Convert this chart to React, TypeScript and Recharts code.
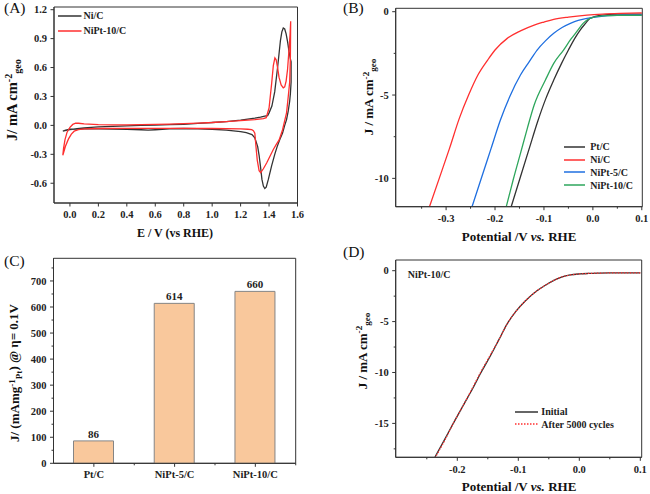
import React from 'react';
import { LineChart, Line, BarChart, Bar, XAxis, YAxis, Legend, LabelList, ReferenceArea } from 'recharts';

// (A) cyclic voltammograms, E (V vs RHE) and J (mA cm-2), one closed loop each
const cvNiE = [-0.05, -0.02, 0.0, 0.05, 0.1, 0.2, 0.3, 0.4, 0.5, 0.6, 0.7, 0.8, 0.9, 1.0, 1.1, 1.2, 1.25, 1.3, 1.34, 1.37, 1.39, 1.40, 1.42, 1.44, 1.46, 1.48, 1.49, 1.50, 1.51, 1.52, 1.53, 1.54, 1.55, 1.555, 1.555, 1.55, 1.545, 1.535, 1.523, 1.51, 1.495, 1.475, 1.457, 1.44, 1.418, 1.395, 1.38, 1.37, 1.36, 1.35, 1.34, 1.33, 1.32, 1.30, 1.28, 1.24, 1.2, 1.1, 1.0, 0.9, 0.8, 0.7, 0.6, 0.55, 0.5, 0.4, 0.3, 0.2, 0.1, 0.0, -0.03, -0.05];
const cvNiJ = [-0.06, -0.05, -0.045, -0.035, -0.025, -0.015, -0.01, -0.005, 0.0, 0.003, 0.007, 0.012, 0.02, 0.03, 0.04, 0.055, 0.065, 0.075, 0.085, 0.095, 0.10, 0.13, 0.2, 0.35, 0.6, 0.88, 0.97, 1.01, 1.0, 0.95, 0.87, 0.77, 0.69, 0.66, 0.45, 0.33, 0.25, 0.15, 0.06, 0.0, -0.08, -0.15, -0.22, -0.3, -0.42, -0.56, -0.64, -0.655, -0.63, -0.56, -0.43, -0.31, -0.22, -0.13, -0.095, -0.075, -0.065, -0.05, -0.04, -0.035, -0.032, -0.035, -0.045, -0.05, -0.045, -0.04, -0.038, -0.036, -0.036, -0.04, -0.05, -0.06];
const cvNiPtE = [-0.05, -0.045, -0.035, -0.02, 0.0, 0.02, 0.04, 0.06, 0.1, 0.2, 0.3, 0.4, 0.5, 0.6, 0.7, 0.8, 0.9, 1.0, 1.1, 1.2, 1.3, 1.36, 1.38, 1.40, 1.418, 1.43, 1.441, 1.45, 1.46, 1.47, 1.485, 1.50, 1.51, 1.52, 1.53, 1.54, 1.548, 1.552, 1.55, 1.545, 1.535, 1.523, 1.51, 1.495, 1.471, 1.45, 1.43, 1.41, 1.383, 1.36, 1.341, 1.33, 1.317, 1.308, 1.30, 1.29, 1.278, 1.25, 1.2, 1.0, 0.8, 0.6, 0.4, 0.2, 0.1, 0.06, 0.03, 0.01, -0.01, -0.03, -0.05];
const cvNiPtJ = [-0.31, -0.24, -0.15, -0.07, -0.02, 0.01, 0.022, 0.022, 0.015, 0.007, 0.005, 0.006, 0.008, 0.01, 0.014, 0.018, 0.024, 0.03, 0.04, 0.05, 0.06, 0.07, 0.08, 0.18, 0.43, 0.62, 0.70, 0.68, 0.6, 0.5, 0.42, 0.39, 0.40, 0.46, 0.58, 0.78, 0.95, 1.08, 0.7, 0.45, 0.3, 0.13, 0.05, -0.045, -0.15, -0.2, -0.25, -0.31, -0.39, -0.45, -0.49, -0.47, -0.36, -0.22, -0.08, -0.055, -0.045, -0.04, -0.036, -0.032, -0.03, -0.03, -0.03, -0.032, -0.036, -0.045, -0.06, -0.09, -0.14, -0.21, -0.31];
const cvNames = ['Ni/C', 'NiPt-10/C'];

// (B) HER polarisation curves
const lsvPtE = [-0.167, -0.148, -0.13, -0.113, -0.096, -0.08, -0.064, -0.05, -0.037, -0.026, -0.015, -0.006, 0.02, 0.05, 0.1];
const lsvPtJ = [-11.7, -9.9, -8.2, -6.6, -5.2, -4.1, -3.1, -2.3, -1.6, -1.1, -0.7, -0.4, -0.2, -0.15, -0.14];
const lsvNiE = [-0.334, -0.314, -0.293, -0.273, -0.254, -0.235, -0.215, -0.2, -0.175, -0.148, -0.12, -0.1, -0.08, -0.05, -0.012, 0.02, 0.056, 0.1];
const lsvNiJ = [-11.7, -10, -8.2, -6.4, -5, -3.8, -2.9, -2.3, -1.6, -1.15, -0.8, -0.62, -0.46, -0.32, -0.2, -0.14, -0.1, -0.07];
const lsvNiPt5E = [-0.247, -0.227, -0.208, -0.189, -0.17, -0.148, -0.13, -0.114, -0.097, -0.08, -0.063, -0.046, -0.03, -0.012, 0.022, 0.06, 0.1];
const lsvNiPt5J = [-11.7, -9.9, -8.2, -6.5, -5.1, -3.8, -3.0, -2.3, -1.75, -1.3, -0.95, -0.7, -0.52, -0.4, -0.26, -0.21, -0.2];
const lsvNiPt10E = [-0.177, -0.163, -0.148, -0.134, -0.12, -0.097, -0.08, -0.06, -0.045, -0.033, -0.02, -0.006, 0.02, 0.05, 0.1];
const lsvNiPt10J = [-11.7, -10.1, -8.5, -7.0, -5.6, -4.1, -3.1, -2.3, -1.65, -1.2, -0.7, -0.4, -0.25, -0.22, -0.22];
const lsvNames = ['Pt/C', 'Ni/C', 'NiPt-5/C', 'NiPt-10/C'];

// (C) mass activity at 0.1 V overpotential
const massCats = ['Pt/C', 'NiPt-5/C', 'NiPt-10/C'];
const massVals = [86, 614, 660];

// (D) stability of NiPt-10/C
const adtE = [-0.2366, -0.22, -0.2066, -0.19, -0.175, -0.162, -0.147, -0.132, -0.118, -0.104, -0.089, -0.07, -0.055, -0.04, -0.028, -0.015, 0.0, 0.015, 0.03, 0.05, 0.075, 0.1];
const adtInitJ = [-18.3, -16.5, -15, -13.2, -11.6, -10.1, -8.5, -6.8, -5.2, -4.0, -3.0, -2.0, -1.4, -0.9, -0.6, -0.42, -0.32, -0.27, -0.24, -0.22, -0.21, -0.21];
const adtAfterJ = [-18.4, -16.6, -15, -13.2, -11.5, -10.0, -8.4, -6.8, -5.2, -4.0, -3.0, -2.0, -1.4, -0.9, -0.6, -0.42, -0.32, -0.27, -0.24, -0.22, -0.21, -0.21];
const adtNames = ['Initial', 'After 5000 cycles'];

// tick values
const aXTicks = [0, 0.2, 0.4, 0.6, 0.8, 1.0, 1.2, 1.4, 1.6];
const aYTicks = [-0.6, -0.3, 0, 0.3, 0.6, 0.9, 1.2];
const bXMajor = [-0.3, -0.2, -0.1, 0, 0.1];
const bXTicks = [-0.35, -0.3, -0.25, -0.2, -0.15, -0.1, -0.05, 0, 0.05, 0.1];
const bYMajor = [-10, -5, 0];
const bYTicks = [-10, -7.5, -5, -2.5, 0];
const cYMajor = [0, 100, 200, 300, 400, 500, 600, 700];
const cYTicks = [0, 50, 100, 150, 200, 250, 300, 350, 400, 450, 500, 550, 600, 650, 700, 750];
const dXMajor = [-0.2, -0.1, 0, 0.1];
const dXTicks = [-0.25, -0.2, -0.15, -0.1, -0.05, 0, 0.05, 0.1];
const dYMajor = [-15, -10, -5, 0];
const dYTicks = [-17.5, -15, -12.5, -10, -7.5, -5, -2.5, 0];

const FONT = '"Liberation Serif", "Times New Roman", serif';
const AX = '#333';
const BLACK = '#333333';
const RED = '#ff2f2f';
const BLUE = '#1f6fe0';
const GREEN = '#2ea65c';

const pts = (e: number[], j: number[]) => e.map((x, i) => ({ e: x, j: j[i] }));
const f1 = (v: number) => v.toFixed(1);
const fInt = (v: number) => String(Math.round(v));

// custom tick: draws its own outward tick mark, minor ticks get no label
function axisTick(side: 'x' | 'y', majors: number[], fmt: (v: number) => string) {
  return (p: any) => {
    const v = Number(p.payload.value);
    const major = majors.some((m) => Math.abs(m - v) < 1e-6);
    const len = major ? 3.5 : 2;
    if (side === 'x') {
      return (
        <g>
          <line x1={p.x} x2={p.x} y1={p.y} y2={p.y + len} stroke={AX} />
          {major && (
            <text x={p.x} y={p.y + 8} dy="0.71em" textAnchor="middle" fontSize={10.5} fontWeight="bold" fontFamily={FONT} fill="#222">
              {fmt(v)}
            </text>
          )}
        </g>
      );
    }
    return (
      <g>
        <line x1={p.x - len} x2={p.x} y1={p.y} y2={p.y} stroke={AX} />
        {major && (
          <text x={p.x - 7} y={p.y} dy="0.355em" textAnchor="end" fontSize={10.5} fontWeight="bold" fontFamily={FONT} fill="#222">
            {fmt(v)}
          </text>
        )}
      </g>
    );
  };
}

const catTick = (p: any) => (
  <g>
    <line x1={p.x} x2={p.x} y1={p.y} y2={p.y + 3.5} stroke={AX} />
    <line x1={p.x + 40.4} x2={p.x + 40.4} y1={p.y} y2={p.y + 2} stroke={AX} />
    <text x={p.x} y={p.y + 7} dy="0.71em" textAnchor="middle" fontSize={10.5} fontWeight="bold" fontFamily={FONT} fill="#222">
      {p.payload.value}
    </text>
  </g>
);

// axis title at fixed place inside the chart svg
const Title = ({ px, py, rot, size, children }: any) => (
  <text
    x={px}
    y={py}
    transform={rot ? `rotate(-90, ${px}, ${py})` : undefined}
    textAnchor="middle"
    fontFamily={FONT}
    fontWeight="bold"
    fontSize={size}
    fill="#111"
  >
    {children}
  </text>
);

const jGeo = (
  <>
    <tspan>J / mA cm</tspan>
    <tspan dy="-0.45em" fontSize="0.7em">-2</tspan>
    <tspan dy="0.8em" fontSize="0.7em">geo</tspan>
  </>
);

const potTitle = (
  <>
    <tspan>Potential /V </tspan>
    <tspan fontStyle="italic">vs.</tspan>
    <tspan> RHE</tspan>
  </>
);

type Item = { name: string; color: string; dash?: string };
const legendBox = (items: Item[], lineW: number, rowH: number, gap: number) => () => (
  <div style={{ fontFamily: FONT, fontWeight: 'bold', fontSize: 10, color: '#222' }}>
    {items.map((it) => (
      <div key={it.name} style={{ display: 'flex', alignItems: 'center', height: rowH, whiteSpace: 'nowrap' }}>
        <svg width={lineW} height={4} style={{ marginRight: gap }}>
          <line x1={0} x2={lineW} y1={2} y2={2} stroke={it.color} strokeWidth={1.5} strokeDasharray={it.dash} />
        </svg>
        <span>{it.name}</span>
      </div>
    ))}
  </div>
);

// closed box round the plot area
const frame = (lo: number, hi: number) => (
  <ReferenceArea y1={lo} y2={hi} fill="none" stroke={AX} strokeWidth={1} ifOverflow="visible" />
);

function PanelA() {
  return (
    <LineChart width={325} height={250} margin={{ top: 7, right: 27.5, bottom: 17, left: 0 }}>
      <XAxis dataKey="e" type="number" domain={[-0.112, 1.6]} allowDataOverflow ticks={aXTicks} interval={0}
        tickSize={0} tickMargin={0} tickLine={false} tick={axisTick('x', aXTicks, f1)} height={30} stroke={AX}
        label={<Title px={175} py={237} size={12}>E / V (vs RHE)</Title>} />
      <YAxis type="number" domain={[-0.805, 1.228]} allowDataOverflow ticks={aYTicks} interval={0}
        tickSize={0} tickMargin={0} tickLine={false} tick={axisTick('y', aYTicks, f1)} width={54} stroke={AX}
        label={<Title px={17} py={100} rot size={14.5}><tspan>J/ mA cm</tspan><tspan dy="-0.45em" fontSize="0.7em">-2</tspan><tspan dy="0.8em" fontSize="0.7em">geo</tspan></Title>} />
      {frame(-0.805, 1.228)}
      <Line data={pts(cvNiE, cvNiJ)} dataKey="j" name={cvNames[0]} type="linear" stroke={BLACK} strokeWidth={1.3} dot={false} activeDot={false} isAnimationActive={false} />
      <Line data={pts(cvNiPtE, cvNiPtJ)} dataKey="j" name={cvNames[1]} type="linear" stroke={RED} strokeWidth={1.3} dot={false} activeDot={false} isAnimationActive={false} />
      <Legend layout="vertical" align="center" verticalAlign="middle" wrapperStyle={{ left: 58, top: 8.6, width: 'auto' }}
        content={legendBox([{ name: cvNames[0], color: BLACK }, { name: cvNames[1], color: RED }], 23.5, 14.7, 2)} />
    </LineChart>
  );
}

function PanelB() {
  return (
    <LineChart width={325} height={250} margin={{ top: 8.3, right: 7.7, bottom: 13.3, left: 30.7 }}>
      <XAxis dataKey="e" type="number" domain={[-0.403, 0.101]} allowDataOverflow ticks={bXTicks} interval={0}
        tickSize={0} tickMargin={0} tickLine={false} tick={axisTick('x', bXMajor, f1)} height={30} stroke={AX}
        label={<Title px={194} py={241} size={13}>{potTitle}</Title>} />
      <YAxis type="number" domain={[-11.7, 0.204]} allowDataOverflow ticks={bYTicks} interval={0}
        tickSize={0} tickMargin={0} tickLine={false} tick={axisTick('y', bYMajor, fInt)} width={40} stroke={AX}
        label={<Title px={48} py={97} rot size={13}>{jGeo}</Title>} />
      {frame(-11.7, 0.204)}
      <Line data={pts(lsvPtE, lsvPtJ)} dataKey="j" name={lsvNames[0]} type="monotone" stroke={BLACK} strokeWidth={1.3} dot={false} activeDot={false} isAnimationActive={false} />
      <Line data={pts(lsvNiE, lsvNiJ)} dataKey="j" name={lsvNames[1]} type="monotone" stroke={RED} strokeWidth={1.3} dot={false} activeDot={false} isAnimationActive={false} />
      <Line data={pts(lsvNiPt5E, lsvNiPt5J)} dataKey="j" name={lsvNames[2]} type="monotone" stroke={BLUE} strokeWidth={1.3} dot={false} activeDot={false} isAnimationActive={false} />
      <Line data={pts(lsvNiPt10E, lsvNiPt10J)} dataKey="j" name={lsvNames[3]} type="monotone" stroke={GREEN} strokeWidth={1.3} dot={false} activeDot={false} isAnimationActive={false} />
      <Legend layout="vertical" align="center" verticalAlign="middle" wrapperStyle={{ left: 238.7, top: 140.2, width: 'auto' }}
        content={legendBox([
          { name: lsvNames[0], color: BLACK },
          { name: lsvNames[1], color: RED },
          { name: lsvNames[2], color: BLUE },
          { name: lsvNames[3], color: GREEN },
        ], 21.5, 12.9, 5)} />
    </LineChart>
  );
}

function PanelC() {
  const data = massCats.map((c, i) => ({ name: c, v: massVals[i] }));
  return (
    <BarChart width={325} height={244} data={data} margin={{ top: 8.3, right: 29.3, bottom: 5.7, left: 0 }}>
      <XAxis dataKey="name" tickSize={0} tickMargin={0} tickLine={false} tick={catTick} height={25} stroke={AX} interval={0} />
      <YAxis type="number" domain={[0, 787]} allowDataOverflow ticks={cYTicks} interval={0}
        tickSize={0} tickMargin={0} tickLine={false} tick={axisTick('y', cYMajor, fInt)} width={53.5} stroke={AX}
        label={
          <Title px={19} py={123} rot size={13}>
            <tspan>J/ (mAmg</tspan>
            <tspan dy="-0.45em" fontSize="0.7em">-1</tspan>
            <tspan dy="0.8em" fontSize="0.7em">Pt</tspan>
            <tspan dy="-0.35em">) @ η= 0.1V</tspan>
          </Title>
        } />
      {frame(0, 787)}
      <Bar dataKey="v" barSize={40} fill="#f9c89c" stroke="#858585" strokeWidth={1} isAnimationActive={false}>
        <LabelList dataKey="v" position="top" offset={3} fill="#222" fontSize={11} fontWeight="bold" fontFamily={FONT} />
      </Bar>
    </BarChart>
  );
}

function PanelD() {
  return (
    <LineChart width={325} height={244} margin={{ top: 10, right: 8.3, bottom: 6.7, left: 30.7 }}>
      <XAxis dataKey="e" type="number" domain={[-0.301, 0.1023]} allowDataOverflow ticks={dXTicks} interval={0}
        tickSize={0} tickMargin={0} tickLine={false} tick={axisTick('x', dXMajor, f1)} height={30} stroke={AX}
        label={<Title px={194} py={241} size={13}>{potTitle}</Title>} />
      <YAxis type="number" domain={[-18.33, 1.05]} allowDataOverflow ticks={dYTicks} interval={0}
        tickSize={0} tickMargin={0} tickLine={false} tick={axisTick('y', dYMajor, fInt)} width={40} stroke={AX}
        label={<Title px={41.5} py={101} rot size={13}>{jGeo}</Title>} />
      {frame(-18.33, 1.05)}
      <Line data={pts(adtE, adtInitJ)} dataKey="j" name={adtNames[0]} type="monotone" stroke={BLACK} strokeWidth={1.3} dot={false} activeDot={false} isAnimationActive={false} />
      <Line data={pts(adtE, adtAfterJ)} dataKey="j" name={adtNames[1]} type="monotone" stroke={RED} strokeWidth={1.2} strokeDasharray="1.5 1.5" dot={false} activeDot={false} isAnimationActive={false} />
      <Legend layout="vertical" align="center" verticalAlign="middle" wrapperStyle={{ left: 190, top: 155.4, width: 'auto' }}
        content={legendBox([
          { name: adtNames[0], color: BLACK },
          { name: adtNames[1], color: RED, dash: '1.5 1.5' },
        ], 23.3, 12.6, 3)} />
    </LineChart>
  );
}

export default function App() {
  const box = (left: number, top: number): React.CSSProperties => ({ position: 'absolute', left, top });
  return (
    <div style={{ position: 'absolute', left: 0, top: 0, width: 650, height: 494, background: '#fff', fontFamily: FONT }}>
      <div style={box(0, 0)}><PanelA /></div>
      <div style={box(325, 0)}><PanelB /></div>
      <div style={box(0, 250)}><PanelC /></div>
      <div style={box(325, 250)}><PanelD /></div>
      <svg width={650} height={494} style={{ position: 'absolute', left: 0, top: 0, pointerEvents: 'none' }}>
        <g fontFamily={FONT} fontSize={15.5} fill="#111">
          <text x={4} y={12.5}>(A)</text>
          <text x={343} y={12.5}>(B)</text>
          <text x={4} y={265.5}>(C)</text>
          <text x={343} y={257}>(D)</text>
        </g>
        <text x={407.7} y={277.5} fontFamily={FONT} fontSize={10} fontWeight="bold" fill="#222">NiPt-10/C</text>
      </svg>
    </div>
  );
}
